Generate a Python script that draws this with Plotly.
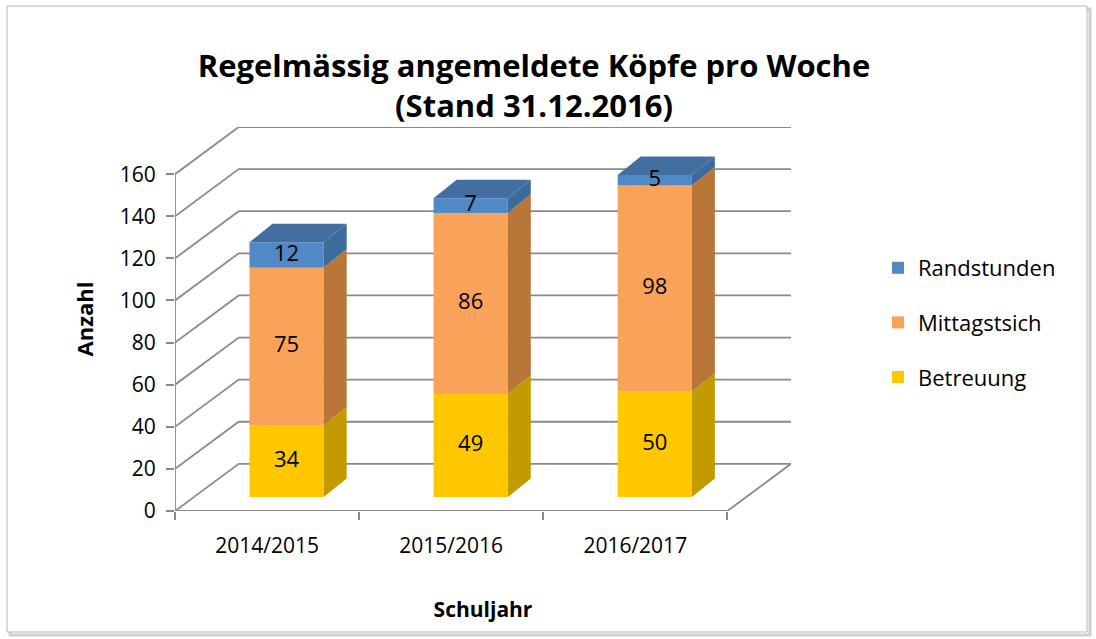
import plotly.graph_objects as go

# ---- data ----
categories = ["2014/2015", "2015/2016", "2016/2017"]
betreuung = [34, 49, 50]
mittagstisch = [75, 86, 98]
randstunden = [12, 7, 5]
y_ticks = [0, 20, 40, 60, 80, 100, 120, 140, 160]

series = [
    ("Betreuung", betreuung, "#FFC700", "#C29B00", None, 3),
    ("Mittagstsich", mittagstisch, "#F9A25A", "#B97639", None, 2),
    ("Randstunden", randstunden, "#5089C6", "#3D6C9C", "#426F9F", 1),
]

# ---- pseudo-3D geometry (data units) ----
DX, DY = 0.346, 22.4      # full depth of the floor / walls
SX, SY = 0.106, 6.6       # shift of bar front faces into the depth
BDX, BDY = 0.125, 8.8     # depth of each bar
W = 0.403                 # bar width
YMAX = y_ticks[-1]
XMIN, XMAX = -0.5, len(categories) - 0.5

FONT = "Open Sans"
GRID = "#8A8A8A"

xs = list(range(len(categories)))
fig = go.Figure()

bottoms = [0] * len(categories)
seg_info = []
for name, vals, front, side, top, rank in series:
    base = [b + SY for b in bottoms]
    fig.add_trace(go.Bar(
        x=xs, y=vals, base=base, width=W, offset=-W / 2 + SX,
        marker=dict(color=front, line=dict(width=0)),
        name=name, legendgroup=name, legendrank=rank, showlegend=True,
        hoverinfo="skip",
    ))
    seg_info.append((name, vals, list(bottoms), front, side, top))
    bottoms = [b + v for b, v in zip(bottoms, vals)]

# side and top faces
for name, vals, bots, front, side, top in seg_info:
    px, py = [], []
    for j, (v, b) in enumerate(zip(vals, bots)):
        xr = j + W / 2 + SX
        y0 = b + SY
        y1 = b + v + SY
        px += [xr, xr, xr + BDX, xr + BDX, xr, None]
        py += [y0, y1, y1 + BDY, y0 + BDY, y0, None]
    fig.add_trace(go.Scatter(x=px, y=py, mode="lines", fill="toself",
                             fillcolor=side, line=dict(width=0, color=side),
                             showlegend=False, hoverinfo="skip"))
    if top:
        tx, ty = [], []
        for j, (v, b) in enumerate(zip(vals, bots)):
            xl = j - W / 2 + SX
            xr = j + W / 2 + SX
            yt = b + v + SY
            tx += [xl, xr, xr + BDX, xl + BDX, xl, None]
            ty += [yt, yt, yt + BDY, yt + BDY, yt, None]
        fig.add_trace(go.Scatter(x=tx, y=ty, mode="lines", fill="toself",
                                 fillcolor=top, line=dict(width=0, color=top),
                                 showlegend=False, hoverinfo="skip"))

# value labels
for name, vals, bots, front, side, top in seg_info:
    fig.add_trace(go.Scatter(
        x=[j + SX for j in xs],
        y=[b + v / 2 + SY for v, b in zip(vals, bots)],
        text=[str(v) for v in vals], mode="text",
        textfont=dict(family=FONT, size=22, color="black"),
        showlegend=False, hoverinfo="skip"))

# gridlines (walls) as shapes below the bars
shapes = []
for v in y_ticks:
    shapes.append(dict(type="path", xref="x", yref="y", layer="below",
                       path=f"M {XMIN} {v} L {XMIN + DX} {v + DY} L {XMAX + DX} {v + DY}",
                       line=dict(color=GRID, width=1.8)))
shapes.append(dict(type="path", xref="x", yref="y", layer="below",
                   path=f"M {XMIN} 0 L {XMAX} 0 L {XMAX + DX} {DY}",
                   line=dict(color=GRID, width=1.8)))
shapes.append(dict(type="line", xref="x", yref="y", layer="below",
                   x0=XMIN, x1=XMIN, y0=0, y1=YMAX,
                   line=dict(color=GRID, width=1.8)))

# chart border with shadow
L, T, PW, PH, BOT = 175, 127, 616, 384, 511
def px2x(p):
    return (p - L) / PW
def py2y(p):
    return (BOT - p) / PH
shapes.append(dict(type="rect", xref="paper", yref="paper", layer="below",
                   x0=px2x(10), x1=px2x(1090), y0=py2y(9), y1=py2y(635),
                   line=dict(color="#D0D0D0", width=3)))
shapes.append(dict(type="rect", xref="paper", yref="paper", layer="below",
                   x0=px2x(7), x1=px2x(1087), y0=py2y(6), y1=py2y(632),
                   line=dict(color="#B8B8B8", width=1), fillcolor="white"))

fig.update_layout(
    width=1096, height=639,
    margin=dict(l=L, r=1096 - L - PW, t=T, b=639 - T - PH),
    paper_bgcolor="white", plot_bgcolor="rgba(0,0,0,0)",
    barmode="overlay",
    shapes=shapes,
    title=dict(text="<b>Regelmässig angemeldete Köpfe pro Woche<br>(Stand 31.12.2016)</b>",
               x=px2x(534), xref="paper", xanchor="center",
               y=1 - 77 / 639, yanchor="middle",
               font=dict(family=FONT, size=31, color="black")),
    font=dict(family=FONT, size=21, color="black"),
    xaxis=dict(range=[XMIN, XMAX + DX], tickmode="array", tickvals=xs, ticktext=categories,
               ticks="outside", ticklen=16, tickcolor="rgba(0,0,0,0)",
               minor=dict(tickmode="array", tickvals=[XMIN + k for k in range(len(categories) + 1)],
                          ticks="outside", ticklen=8, tickcolor=GRID, tickwidth=1.8),
               showgrid=False, zeroline=False, showline=False,
               tickfont=dict(family=FONT, size=21),
               title=dict(text="<b>Schuljahr</b>", standoff=44,
                          font=dict(family=FONT, size=21))),
    yaxis=dict(range=[0, YMAX + DY], tickmode="array", tickvals=y_ticks,
               ticks="outside", ticklen=8, tickcolor=GRID, tickwidth=1.8,
               ticklabelstandoff=6,
               showgrid=False, zeroline=False, showline=False,
               tickfont=dict(family=FONT, size=21),
               title=dict(text="<b>Anzahl</b>", standoff=20,
                          font=dict(family=FONT, size=22))),
    legend=dict(x=px2x(878), y=py2y(247), xanchor="left", yanchor="top",
                traceorder="grouped", tracegroupgap=23,
                font=dict(family=FONT, size=22), bgcolor="rgba(0,0,0,0)"),
    showlegend=True,
)

fig.write_html("out.html", config={"displayModeBar": False},
               post_script="document.body.style.margin='0';")
